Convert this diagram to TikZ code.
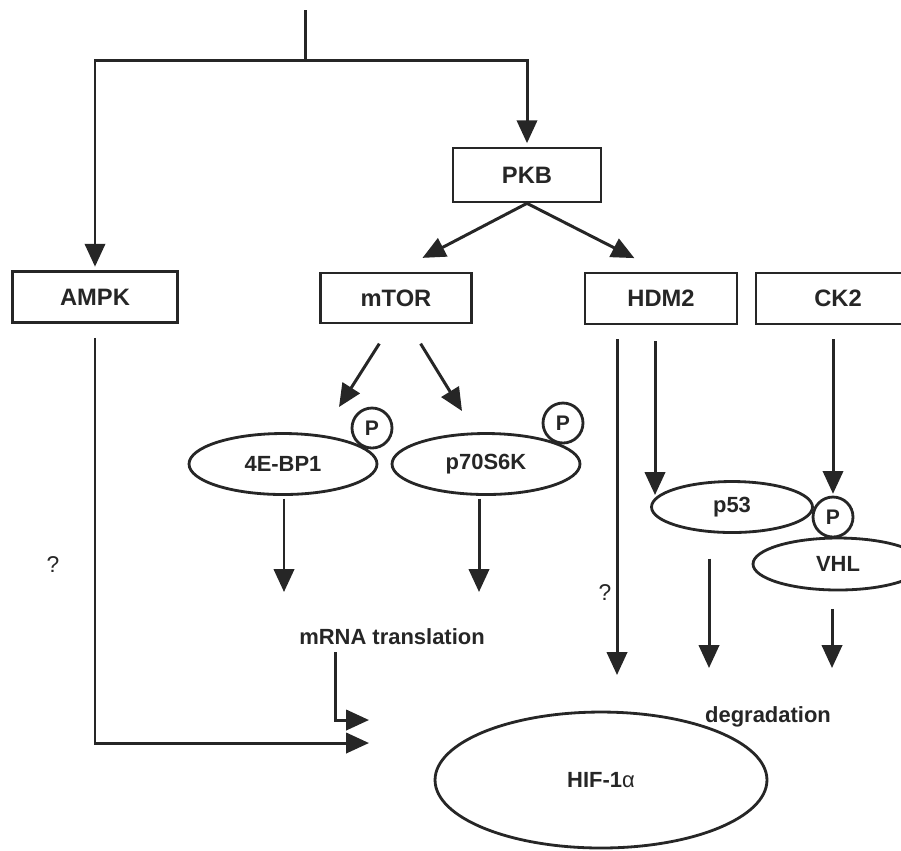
\documentclass[tikz,border=0pt]{standalone}
\usepackage{fontspec}
\setmainfont{Liberation Sans}
\usetikzlibrary{arrows.meta,shapes.geometric}
\definecolor{ink}{HTML}{262626}
\begin{document}
\begin{tikzpicture}[x=0.02cm, y=-0.02cm, color=ink, line width=1.7pt,
  every node/.style={font=\fontsize{13.5}{16}\selectfont\bfseries},
  box/.style={draw, fill=white, rectangle, line width=1.5pt, minimum height=1.02cm, inner sep=0pt},
  oval/.style={draw, fill=white, ellipse, line width=1.6pt, inner sep=0pt, font=\fontsize{12.5}{15}\selectfont\bfseries},
  phos/.style={draw, fill=white, circle, minimum size=0.8cm, inner sep=0pt, line width=1.6pt, font=\fontsize{12}{14}\selectfont\bfseries},
  lbl/.style={font=\fontsize{12.5}{15}\selectfont\bfseries},
  qm/.style={font=\fontsize{13}{15}\selectfont},
  arr/.style={-{Triangle[length=13pt,width=11.5pt]}}]
  \clip (0,0) rectangle (901,850);
  \node[box, minimum width=3.3cm] (ampk) at (95,297) {AMPK};
  \node[box, minimum width=2.96cm, minimum height=1.08cm] (pkb) at (527,175) {PKB};
  \node[box, minimum width=3.02cm, minimum height=1cm] (mtor) at (396,298) {mTOR};
  \node[box, minimum width=3.04cm] (hdm2) at (661,298.5) {HDM2};
  \node[box, minimum width=3.28cm] (ck2) at (838,298.5) {CK2};
  \node[oval, minimum width=3.76cm, minimum height=1.22cm] (ebp) at (283,464) {4E-BP1};
  \node[oval, minimum width=3.76cm, minimum height=1.22cm] (p70) at (486,464) {p70S6K};
  \node[oval, minimum width=3.22cm, minimum height=1.02cm] (p53) at (732,507) {p53};
  \node[oval, minimum width=3.4cm, minimum height=1.04cm] (vhl) at (838,564) {VHL};
  \node[oval, minimum width=6.64cm, minimum height=2.72cm] (hif) at (601,780) {HIF-1{\mdseries α}};
  \node[phos] (ebpp) at (372,428) {P};
  \node[phos] (p70p) at (563,423) {P};
  \node[phos] (vhlp) at (833,517) {P};
  \node[lbl] (transl) at (392,637) {mRNA translation};
  \node[lbl] (degr) at (768,717) {degradation};
  \node[qm] (qampk) at (53,565) {?};
  \node[qm] (qhdm) at (605,593) {?};

  \coordinate (top) at (305,10);
  \coordinate (split) at (305,60);
  \coordinate (ebptip) at (339,407);
  \coordinate (p70tip) at (462,411);
  \coordinate (ebpout) at (284,592);
  \coordinate (p70out) at (479,592);
  \coordinate (hdmout) at (617,675);
  \coordinate (p53in) at (655,495);
  \coordinate (p53out) at (709,668);
  \coordinate (vhlout) at (832,668);
  \coordinate (ampkin) at (369,743);
  \coordinate (transin) at (369,720);

  \draw (top) -- (split);
  \draw[arr, shorten >=2pt] (split) -| (ampk.north);
  \draw[arr, shorten >=2pt] (split) -| (pkb.north);
  \draw[arr, shorten >=17pt] (pkb.south) -- (mtor.north);
  \draw[arr, shorten >=17pt] (pkb.south) -- (hdm2.north);
  \draw[arr] ([xshift=-9.5pt,yshift=-11pt]mtor.south) -- (ebptip);
  \draw[arr] ([xshift=14pt,yshift=-11pt]mtor.south) -- (p70tip);
  \draw[arr, shorten <=1.5pt] (ebp.south -| ebpout) -- (ebpout);
  \draw[arr, shorten <=1.5pt] (p70.south -| p70out) -- (p70out);
  \draw[arr, shorten <=8pt] (hdm2.south -| hdmout) -- (hdmout);
  \draw[arr, shorten <=9pt] (hdm2.south -| p53in) -- (p53in);
  \draw[arr, shorten <=8pt, shorten >=1pt] (ck2.south -| vhlp) -- (vhlp.north);
  \draw[arr, shorten <=14pt] (p53.south -| p53out) -- (p53out);
  \draw[arr, shorten <=10pt] (vhl.south -| vhlout) -- (vhlout);
  \draw[arr, shorten <=8pt] (ampk.south) |- (ampkin);
  \draw[arr] ([xshift=-32pt]transl.south) |- (transin);
\end{tikzpicture}
\end{document}
